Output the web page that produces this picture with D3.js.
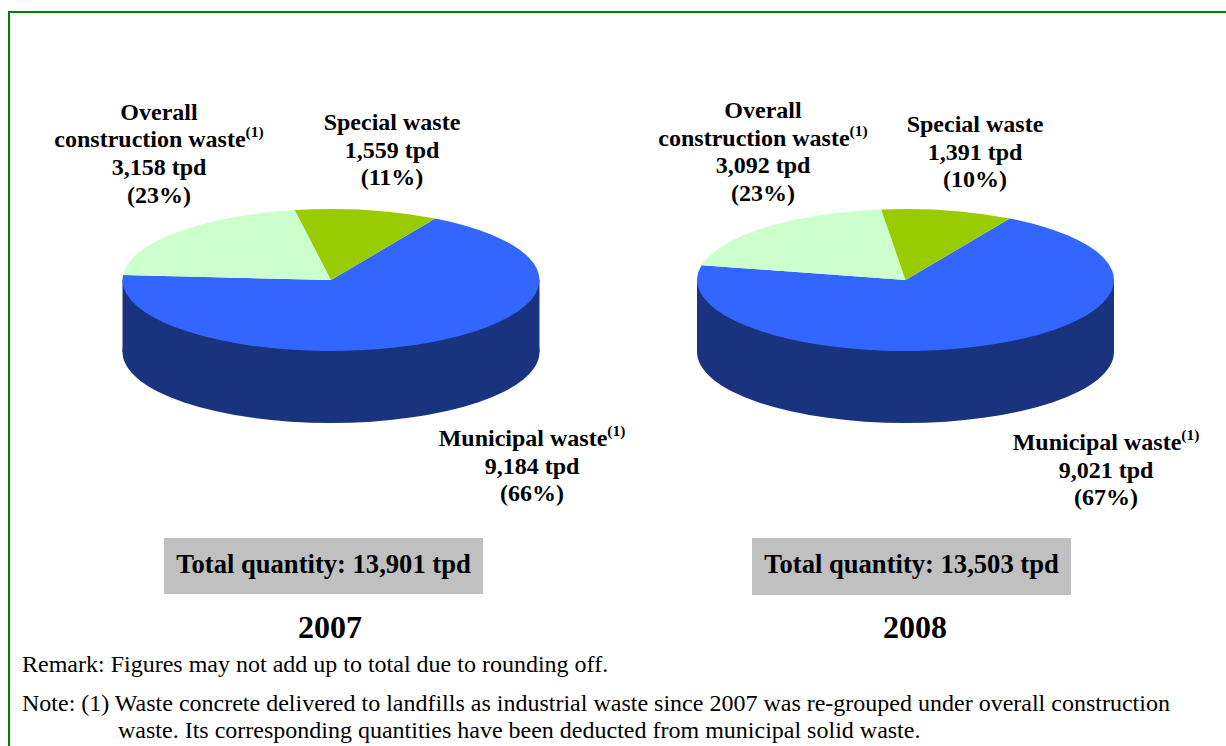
<!DOCTYPE html>
<html><head><meta charset="utf-8">
<script src="https://cdn.jsdelivr.net/npm/d3@7/dist/d3.min.js"></script>
<style>html,body{margin:0;padding:0;background:#fff}svg{display:block}text{font-family:"Liberation Serif",serif;fill:#000}</style>
</head><body><svg id="c" width="1226" height="746"></svg>
<script>
const categories = ["Municipal waste", "Overall construction waste", "Special waste"];
const colors = ["#3366FF", "#CCFFCC", "#99CC00"];
const wallColor = "#1A337F";
const years = ["2007", "2008"];
const values2007 = [9184, 3158, 1559];
const values2008 = [9021, 3092, 1391];
// slice sizes in degrees as drawn in the picture (the drawing does not follow its labels exactly)
const drawn2007 = [244, 76, 40];
const drawn2008 = [252, 71.3, 36.7];
const percents2007 = [66, 23, 11];
const percents2008 = [67, 23, 10];
const totals = [13901, 13503];

const svg = d3.select("#c");
const fmt = d3.format(",");
svg.append("rect").attr("x",9).attr("y",12).attr("width",1300).attr("height",800)
  .attr("fill","none").attr("stroke","#008000").attr("stroke-width",2);

const rx = 208.5, ry = 71, depth = 72, cy = 280;
const arc = d3.arc().innerRadius(0).outerRadius(rx);
const pie = d3.pie().sort(null).startAngle(Math.PI/6).endAngle(Math.PI/6 + 2*Math.PI);

function label(x, y, lines, sup) {
  lines.forEach((t,i) => {
    const el = svg.append("text").attr("x",x).attr("y",y+i*27.7).attr("text-anchor","middle")
      .attr("font-size",24).attr("font-weight","bold");
    el.append("tspan").text(t);
    if (sup === i) el.append("tspan").text("(1)").attr("font-size",15.5).attr("dy",-10);
  });
}

const layouts = [
  {cx:331, drawn:drawn2007, vals:values2007, pct:percents2007,
   lab:[[532,446],[159,119.5],[392,130]], box:[164,538,319,56], year:330},
  {cx:905.5, drawn:drawn2008, vals:values2008, pct:percents2008,
   lab:[[1106,450],[763,118],[975,132]], box:[752,538,319,57], year:915}
];

layouts.forEach((L,k) => {
  const slices = pie(L.drawn);
  const wall = svg.append("g");
  wall.append("path").attr("d", arc({startAngle:0,endAngle:2*Math.PI}))
    .attr("transform",`translate(${L.cx},${cy+depth}) scale(1,${ry/rx})`).attr("fill",wallColor);
  wall.append("rect").attr("x",L.cx-rx).attr("y",cy).attr("width",2*rx).attr("height",depth).attr("fill",wallColor);
  svg.append("g").attr("transform",`translate(${L.cx},${cy}) scale(1,${ry/rx})`)
    .selectAll("path").data(slices).join("path")
    .attr("d",arc).attr("fill",(d,i)=>colors[i]);
  const line = i => `${fmt(L.vals[i])} tpd`, pc = i => `(${L.pct[i]}%)`;
  label(L.lab[0][0], L.lab[0][1], [categories[0], line(0), pc(0)], 0);
  label(L.lab[1][0], L.lab[1][1], ["Overall","construction waste",line(1),pc(1)], 1);
  label(L.lab[2][0], L.lab[2][1], [categories[2], line(2), pc(2)], -1);
  svg.append("rect").attr("x",L.box[0]).attr("y",L.box[1]).attr("width",L.box[2]).attr("height",L.box[3]).attr("fill","#C0C0C0");
  svg.append("text").attr("x",L.box[0]+L.box[2]/2).attr("y",L.box[1]+35).attr("text-anchor","middle")
    .attr("font-size",26.6).attr("font-weight","bold").text(`Total quantity: ${fmt(totals[k])} tpd`);
  svg.append("text").attr("x",L.year).attr("y",638).attr("text-anchor","middle")
    .attr("font-size",32).attr("font-weight","bold").text(years[k]);
});

const notes = [
 [22,672,"Remark: Figures may not add up to total due to rounding off."],
 [22,711,"Note: (1) Waste concrete delivered to landfills as industrial waste since 2007 was re-grouped under overall construction"],
 [118,738,"waste. Its corresponding quantities have been deducted from municipal solid waste."]
];
notes.forEach(n => svg.append("text").attr("x",n[0]).attr("y",n[1]).attr("font-size",24).text(n[2]));
</script></body></html>
